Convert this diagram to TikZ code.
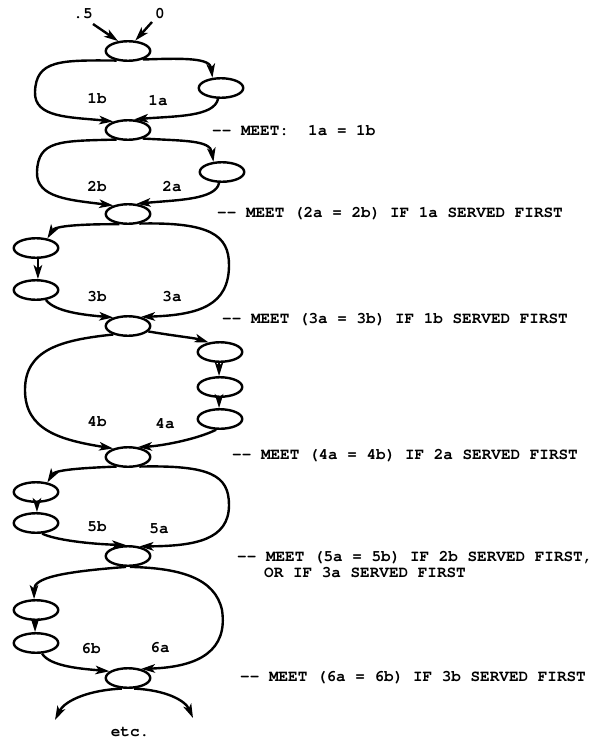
\documentclass[tikz,border=0pt]{standalone}
\usepackage[T1]{fontenc}
\usetikzlibrary{arrows.meta,shapes.geometric}
\newcommand{\lblfont}{\fontfamily{pcr}\fontseries{b}\fontsize{16pt}{16pt}\selectfont}
\tikzset{
  state/.style={ellipse, draw, line width=2.4pt, minimum width=44.5pt, minimum height=19.5pt, inner sep=0pt},
  flow/.style={line width=2.4pt, -{Stealth[length=14pt,width=8.5pt,inset=3.5pt]}},
  lbl/.style={font=\lblfont, anchor=base, inner sep=0pt},
  note/.style={font=\lblfont, anchor=base west, inner sep=0pt}
}
\begin{document}
\begin{tikzpicture}[x=1pt, y=-1pt]
\useasboundingbox (0,0) rectangle (592,742);

% main column of join points
\node[state] (E0) at (128,51) {};
\node[state] (E1) at (128,130) {};
\node[state] (E2) at (128,214) {};
\node[state] (E3) at (128,326) {};
\node[state] (E4) at (128,457) {};
\node[state] (E5) at (128,556) {};
\node[state] (E6) at (128,678) {};
% side branches
\node[state] (R1) at (221,88) {};
\node[state] (R2) at (222,172) {};
\node[state] (L3a) at (36,248) {};
\node[state] (L3b) at (36,290) {};
\node[state] (R4a) at (220,352) {};
\node[state] (R4b) at (220,387) {};
\node[state] (R4c) at (220,419) {};
\node[state] (L5a) at (36,492) {};
\node[state] (L5b) at (36,523) {};
\node[state] (L6a) at (36,610) {};
\node[state] (L6b) at (36,643) {};

% inputs
\node[lbl] (in5) at (83,18) {.5};
\node[lbl] (in0) at (160,18) {0};
\coordinate (s5) at (93,24);
\coordinate (s0) at (152,22);
\draw[flow] (s5) -- (E0.135);
\draw[flow] (s0) -- (E0.55);

% stage 1
\draw[flow] (E0.-30) .. controls (185,58) and (210,58) .. (R1.130);
\draw[flow] (E0.-140) .. controls (60,60) and (36,60) .. (35,92) .. controls (34,118) and (70,117) .. (E1.150);
\draw[flow] (R1.-105) .. controls (214,117) and (175,116) .. (E1.60);
\node[lbl] (l1b) at (97,103) {1b};
\node[lbl] (l1a) at (158,105) {1a};

% stage 2
\draw[flow] (E1.-30) .. controls (185,141) and (210,140) .. (R2.130);
\draw[flow] (E1.-140) .. controls (60,141) and (38,140) .. (37,172) .. controls (36,198) and (70,200) .. (E2.150);
\draw[flow] (R2.-105) .. controls (216,200) and (175,200) .. (E2.50);
\node[lbl] (l2b) at (97,191) {2b};
\node[lbl] (l2a) at (172,191) {2a};

% stage 3
\draw[flow] (E2.-130) .. controls (80,224) and (55,226) .. (L3a.40);
\draw[flow] (L3a.-80) -- (L3b.80);
\draw[flow] (E2.-40) .. controls (210,222) and (229,235) .. (229,265) .. controls (229,305) and (200,315) .. (E3.35);
\draw[flow] (L3b.-45) .. controls (55,312) and (85,315) .. (E3.150);
\node[lbl] (l3b) at (97,301) {3b};
\node[lbl] (l3a) at (172,301) {3a};

% stage 4
\draw[flow] (E3.-15) .. controls (175,336) and (195,338) .. (R4a.140);
\draw[flow] (R4a.-95) -- (R4b.95);
\draw[flow] (R4b.-95) -- (R4c.95);
\draw[flow] (R4c.-110) .. controls (195,440) and (160,446) .. (E4.45);
\draw[flow] (E3.-150) .. controls (60,340) and (25,350) .. (25,390) .. controls (25,430) and (60,440) .. (E4.150);
\node[lbl] (l4b) at (97,426) {4b};
\node[lbl] (l4a) at (165,428) {4a};

% stage 5
\draw[flow] (E4.-140) .. controls (80,468) and (55,470) .. (L5a.40);
\draw[flow] (L5a.-85) -- (L5b.85);
\draw[flow] (E4.-40) .. controls (210,465) and (229,475) .. (229,505) .. controls (229,540) and (195,546) .. (E5.40);
\draw[flow] (L5b.-60) .. controls (55,540) and (90,544) .. (E5.100);
\node[lbl] (l5b) at (97,531) {5b};
\node[lbl] (l5a) at (159,533) {5a};

% stage 6
\draw[flow] (E5.-100) .. controls (60,572) and (34,578) .. (L6a.100);
\draw[flow] (L6a.-95) -- (L6b.95);
\draw[flow] (E5.-80) .. controls (180,568) and (215,578) .. (222,610) .. controls (228,650) and (200,667) .. (E6.35);
\draw[flow] (L6b.-60) .. controls (50,667) and (85,669) .. (E6.160);
\node[lbl] (l6b) at (91,653) {6b};
\node[lbl] (l6a) at (160,652) {6a};

% continuation
\coordinate (etcL) at (55,720);
\coordinate (etcR) at (193,718);
\draw[flow] (E6.-120) .. controls (90,690) and (65,700) .. (etcL);
\draw[flow] (E6.-60) .. controls (165,690) and (185,700) .. (etcR);
\node[lbl] (etc) at (130,736) {etc.};

% meeting conditions
\node[note] (m1) at (212,135) {-{}- MEET:~~1a = 1b};
\node[note] (m2) at (217,217) {-{}- MEET (2a = 2b) IF 1a SERVED FIRST};
\node[note] (m3) at (222,323) {-{}- MEET (3a = 3b) IF 1b SERVED FIRST};
\node[note] (m4) at (232,459) {-{}- MEET (4a = 4b) IF 2a SERVED FIRST};
\node[note] (m5) at (237,561) {-{}- MEET (5a = 5b) IF 2b SERVED FIRST,};
\node[note] (m5b) at (264,577) {OR IF 3a SERVED FIRST};
\node[note] (m6) at (240,681) {-{}- MEET (6a = 6b) IF 3b SERVED FIRST};
\end{tikzpicture}
\end{document}
